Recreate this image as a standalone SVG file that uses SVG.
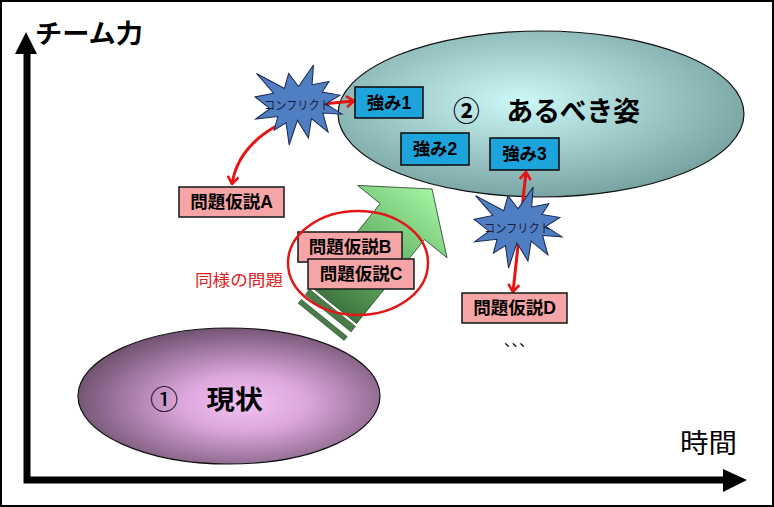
<svg xmlns="http://www.w3.org/2000/svg" width="774" height="507" viewBox="0 0 774 507">
<style>
text{font-family:'Liberation Sans','Noto Sans CJK JP',sans-serif;}
.b{font-weight:bold;}
.box1{fill:#1ea4dd;stroke:#111;stroke-width:1.6;}
.box2{fill:#f5a5a5;stroke:#222;stroke-width:1.6;}
.lbl{font-size:17.5px;font-weight:bold;fill:#000;text-anchor:middle;}
.seal{fill:#4f7fc2;stroke:#1c2a55;stroke-width:0.26;}
.cf{font-size:12px;fill:#1a1a3a;}
.red{fill:none;stroke:#e81212;stroke-width:3;}
</style>
<defs>
<radialGradient id="g1" cx="0.55" cy="0.55" r="0.6">
<stop offset="0" stop-color="#f4c2f4"/>
<stop offset="0.35" stop-color="#dca6dc"/>
<stop offset="1" stop-color="#664a66"/>
</radialGradient>
<radialGradient id="g2" cx="0.45" cy="0.42" r="0.62">
<stop offset="0" stop-color="#cdf8f8"/>
<stop offset="1" stop-color="#739f9f"/>
</radialGradient>
<linearGradient id="ga" gradientUnits="userSpaceOnUse" x1="-152" y1="0" x2="0" y2="0">
<stop offset="0" stop-color="#3f773f"/>
<stop offset="0.5" stop-color="#6cba6c"/>
<stop offset="1" stop-color="#a4f4a4"/>
</linearGradient>
<path id="seal" d="M10.8,5.8 L8.352,2.295 L7.312,6.32 L0.37,2.295 L4.627,7.617 L0,8.615 L3.722,11.775 L0.135,14.587 L5.667,13.937 L4.762,17.617 L7.715,15.627 L8.485,21.6 L10.532,14.935 L13.247,19.737 L14.02,14.457 L18.145,18.095 L16.837,12.942 L21.6,13.29 L17.607,10.475 L21.097,8.137 L16.702,7.315 L18.38,4.457 L14.155,5.325 L14.522,0 Z"/>
<marker id="ah" viewBox="0 0 10 13" refX="8.5" refY="6.5" markerWidth="10" markerHeight="13" markerUnits="userSpaceOnUse" orient="auto-start-reverse">
<path d="M1,1 L8.5,6.5 L1,12" fill="none" stroke="#e81212" stroke-width="2.6"/>
</marker>
</defs>
<rect x="1" y="1" width="772" height="505" fill="#fff" stroke="#000" stroke-width="2"/>

<g id="axes">
<path d="M27,52 V480 H725" fill="none" stroke="#000" stroke-width="7"/>
<polygon points="26,32 37,54 15,54" fill="#000"/>
<polygon points="747,480 723,469 723,492" fill="#000"/>
<text x="35" y="43" class="b" font-size="26" textLength="108" lengthAdjust="spacingAndGlyphs" fill="#000">チーム力</text>
<text x="680" y="453" font-size="27" textLength="57" lengthAdjust="spacingAndGlyphs" fill="#000">時間</text>
</g>

<g id="goal">
<ellipse cx="541" cy="114" rx="203" ry="83" fill="url(#g2)" stroke="#111" stroke-width="1.2"/>
<text x="453" y="121" class="b" font-size="27" textLength="187" lengthAdjust="spacingAndGlyphs" fill="#000">②　あるべき姿</text>
</g>

<g id="current">
<ellipse cx="229" cy="396" rx="151" ry="68" fill="url(#g1)" stroke="#111" stroke-width="1.2"/>
<text x="150" y="409" font-size="26" textLength="113" lengthAdjust="spacingAndGlyphs" fill="#000"><tspan font-weight="normal">①</tspan><tspan font-weight="bold">　現状</tspan></text>
</g>

<g id="growth-arrow" transform="translate(432,189) rotate(-51)">
<polygon points="0,0 -44,-60 -44,-31 -152,-31 -152,26 -44,26 -44,55" fill="url(#ga)" stroke="#2a4a2a" stroke-width="0.8"/>
<rect x="-162" y="-32" width="7" height="59" fill="#4a7c4a" stroke="#2a4a2a" stroke-width="0.6"/>
<rect x="-173" y="-32" width="5" height="59" fill="#4a7c4a" stroke="#2a4a2a" stroke-width="0.6"/>
</g>

<g id="connectors">
<path class="red" d="M322,104 L354,101" marker-end="url(#ah)"/>
<path class="red" d="M280,124 Q238,146 232,184" marker-end="url(#ah)"/>
<path class="red" d="M526,172 L513,292" marker-start="url(#ah)" marker-end="url(#ah)"/>
</g>

<g id="conflict1">
<use href="#seal" class="seal" transform="translate(255,65) scale(4.028,3.704)"/>
<text x="264" y="110" class="cf" textLength="67" lengthAdjust="spacingAndGlyphs">コンフリクト</text>
</g>

<g id="conflict2">
<use href="#seal" class="seal" transform="translate(474,187) scale(4.074,3.75)"/>
<text x="484" y="233" class="cf" textLength="67" lengthAdjust="spacingAndGlyphs">コンフリクト</text>
</g>

<g id="strength1">
<rect class="box1" x="355" y="87" width="68" height="31"/>
<text class="lbl" x="389" y="109">強み1</text>
</g>
<g id="strength2">
<rect class="box1" x="401" y="133" width="68" height="32"/>
<text class="lbl" x="435" y="155">強み2</text>
</g>
<g id="strength3">
<rect class="box1" x="490" y="138" width="69" height="32"/>
<text class="lbl" x="524.5" y="160">強み3</text>
</g>

<g id="hypA">
<rect class="box2" x="179" y="187" width="105" height="30"/>
<text class="lbl" x="231.5" y="208">問題仮説A</text>
</g>
<g id="hypB">
<rect class="box2" x="298" y="232" width="104" height="30"/>
<text class="lbl" x="350" y="253">問題仮説B</text>
</g>
<g id="hypC">
<rect class="box2" x="308" y="259" width="106" height="30"/>
<text class="lbl" x="361" y="280">問題仮説C</text>
</g>
<g id="hypD">
<rect class="box2" x="462" y="293" width="105" height="30"/>
<text class="lbl" x="514.5" y="314">問題仮説D</text>
</g>

<g id="same-problem">
<ellipse cx="358" cy="263" rx="70" ry="52" fill="none" stroke="#e01818" stroke-width="2.5"/>
<text x="195" y="286" font-size="16" textLength="88" lengthAdjust="spacingAndGlyphs" fill="#e02020">同様の問題</text>
</g>

<text x="504" y="346" font-size="15" fill="#000">、、、</text>
</svg>
